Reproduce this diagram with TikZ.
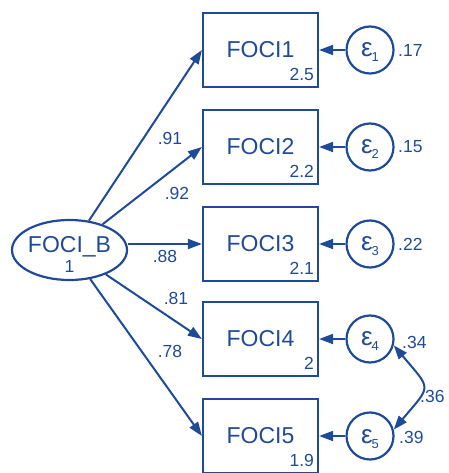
\documentclass[tikz,border=0pt]{standalone}
\usepackage{fontspec}
\setmainfont{Liberation Sans}
\usetikzlibrary{arrows.meta,shapes.geometric,positioning}
\definecolor{semblue}{RGB}{31,74,152}
\begin{document}
\begin{tikzpicture}[x=1pt,y=-1pt,>={Triangle[length=14pt,width=10pt]}]
\tikzstyle{observed}=[draw=semblue, line width=2.2pt, minimum width=115pt, minimum height=74pt, inner sep=0pt, text=semblue, font=\fontsize{23}{23}\selectfont];
\tikzstyle{latent}=[ellipse, draw=semblue, line width=2.2pt, minimum width=115pt, minimum height=60pt, inner sep=0pt];
\tikzstyle{error}=[circle, draw=semblue, line width=2.2pt, minimum size=47pt, inner sep=0pt, text depth=0pt, text=semblue, font=\fontsize{26}{26}\selectfont];
\tikzstyle{coef}=[text=semblue, font=\fontsize{17.5}{17.5}\selectfont, inner sep=0pt];
\tikzstyle{path}=[semblue, line width=2pt];
\useasboundingbox (0,0) rectangle (448,473);

\node[latent] (fb) at (69.5,250) {};
\node[coef, anchor=base, font=\fontsize{23}{23}\selectfont] (fbname) at (69.5,252) {FOCI\_B};
\node[coef, anchor=base, font=\fontsize{17.5}{17.5}\selectfont] (fbmean) at (69.5,272) {1};

\node[observed] (f1) at (260.5,50) {FOCI1};
\node[observed] (f2) at (260.5,147) {FOCI2};
\node[observed] (f3) at (260.5,244) {FOCI3};
\node[observed] (f4) at (260.5,339) {FOCI4};
\node[observed] (f5) at (260.5,436) {FOCI5};

\node[coef, above left=7pt and 5pt of f1.south east] (m1) {2.5};
\node[coef, above left=7pt and 5pt of f2.south east] (m2) {2.2};
\node[coef, above left=7pt and 5pt of f3.south east] (m3) {2.1};
\node[coef, above left=7pt and 5pt of f4.south east] (m4) {2};
\node[coef, above left=7pt and 5pt of f5.south east] (m5) {1.9};

\node[error] (e1) at (370,50) {ε\hspace{-1pt}\raisebox{-5pt}{\fontsize{13}{13}\selectfont 1}};
\node[error] (e2) at (370,147) {ε\hspace{-1pt}\raisebox{-5pt}{\fontsize{13}{13}\selectfont 2}};
\node[error] (e3) at (370,244) {ε\hspace{-1pt}\raisebox{-5pt}{\fontsize{13}{13}\selectfont 3}};
\node[error] (e4) at (370,339) {ε\hspace{-1pt}\raisebox{-5pt}{\fontsize{13}{13}\selectfont 4}};
\node[error] (e5) at (370,436) {ε\hspace{-1pt}\raisebox{-5pt}{\fontsize{13}{13}\selectfont 5}};

% loadings
\node[coef] (l1) at (170,138) {.91};
\node[coef] (l2) at (177,193) {.92};
\node[coef] (l3) at (165,256) {.88};
\node[coef] (l4) at (176,298) {.81};
\node[coef] (l5) at (170,351) {.78};

% error variances
\node[coef, anchor=west] (v1) at (398,50) {.17};
\node[coef, anchor=west] (v2) at (398,147) {.15};
\node[coef, anchor=west] (v3) at (398,244) {.22};
\node[coef, anchor=west] (v4) at (402,342) {.34};
\node[coef, anchor=west] (v5) at (399,437) {.39};
\node[coef, anchor=west] (c45) at (420,396) {.36};

\draw[->, path] (fb) edge (f1.west);
\draw[->, path] (fb) edge (f2.west);
\draw[->, path] (fb.east |- f3.west) -- (f3.west);
\draw[->, path] (fb) edge (f4.west);
\draw[->, path] (fb) edge (f5.west);

\draw[->, path] (e1) edge (f1);
\draw[->, path] (e2) edge (f2);
\draw[->, path] (e3) edge (f3);
\draw[->, path] (e4) edge (f4);
\draw[->, path] (e5) edge (f5);

\draw[<->, path] (e4.-15) to[out=-50, in=50, looseness=1.8] (e5.15);
\end{tikzpicture}
\end{document}
